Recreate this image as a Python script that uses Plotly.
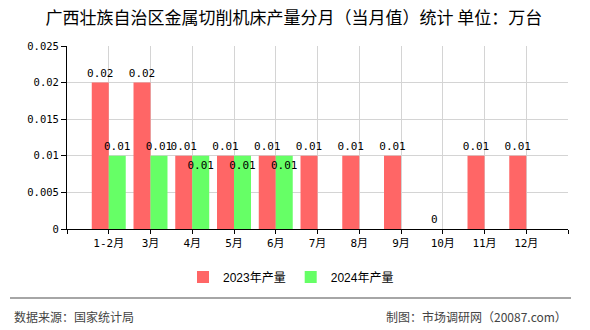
import plotly.graph_objects as go

categories = ["1-2月", "3月", "4月", "5月", "6月", "7月", "8月", "9月", "10月", "11月", "12月"]
prod_2023 = [0.02, 0.02, 0.01, 0.01, 0.01, 0.01, 0.01, 0.01, 0, 0.01, 0.01]
prod_2024 = [0.01, 0.01, 0.01, 0.01, 0.01, None, None, None, None, None, None]
label_pos_2024 = ["outside", "outside", "inside", "inside", "inside"] + ["outside"] * 6
y_ticks = [0, 0.005, 0.01, 0.015, 0.02, 0.025]

xs = list(range(len(categories)))
mono = "DejaVu Sans Mono, Noto Sans CJK SC"
cjk = "Noto Sans CJK SC"

def fmt(v):
    return "" if v is None else f"{v:g}"

fig = go.Figure()
fig.add_trace(go.Bar(
    x=xs, y=prod_2023, name="2023年产量",
    marker=dict(color="#FF6666", line=dict(width=0)),
    text=[fmt(v) for v in prod_2023], textposition="outside", textangle=0,
    textfont=dict(family=mono, size=11, color="#000"),
    constraintext="none", cliponaxis=False,
))
fig.add_trace(go.Bar(
    x=xs, y=prod_2024, name="2024年产量",
    marker=dict(color="#66FF66", line=dict(width=0)),
    text=[fmt(v) for v in prod_2024], textposition=label_pos_2024, textangle=0,
    insidetextanchor="end",
    textfont=dict(family=mono, size=11, color="#000"),
    constraintext="none", cliponaxis=False,
))

tickvals = [-1] + xs + [len(categories)]
ticktext = [""] + categories + [""]

fig.update_layout(
    width=590, height=330,
    margin=dict(l=67, r=22, t=46, b=101),
    paper_bgcolor="white", plot_bgcolor="white",
    barmode="group", bargap=0.186, bargroupgap=0,
    title=dict(text="广西壮族自治区金属切削机床产量分月（当月值）统计 单位：万台",
               x=0.498, xref="container", xanchor="center",
               y=1 - 18 / 330, yref="container", yanchor="middle",
               font=dict(family=cjk, size=17, color="#000")),
    legend=dict(orientation="h", xref="container", yref="container",
                x=291 / 590, xanchor="center", y=1 - 277 / 330, yanchor="middle",
                font=dict(family="Liberation Sans, Noto Sans CJK SC", size=12, color="#000"),
                itemwidth=30, traceorder="normal"),
    xaxis=dict(range=[-1, len(categories)], tickmode="array", tickvals=tickvals,
               ticktext=ticktext, showgrid=True, gridcolor="#d4d4d4", gridwidth=1,
               showline=True, linecolor="#000", linewidth=1, ticks="outside",
               ticklen=4, tickcolor="#000", zeroline=False,
               tickfont=dict(family=mono, size=11, color="#000")),
    yaxis=dict(range=[0, 0.025], tickmode="array", tickvals=y_ticks,
               ticktext=[f"{v:g}" for v in y_ticks],
               showgrid=True, gridcolor="#d4d4d4", gridwidth=1,
               showline=True, linecolor="#000", linewidth=1, ticks="outside",
               ticklen=5, tickcolor="#000", zeroline=False,
               tickfont=dict(family=mono, size=10.5, color="#000")),
    shapes=[dict(type="line", xref="paper", yref="paper",
                 x0=(10 - 67) / 501, x1=(571 - 67) / 501,
                 y0=(229 - 298) / 183, y1=(229 - 298) / 183,
                 line=dict(color="#888888", width=1.5))],
    annotations=[
        dict(text="数据来源：国家统计局", xref="paper", yref="paper",
             x=(12 - 67) / 501, y=(229 - 316) / 183, xanchor="left", yanchor="middle",
             showarrow=False, font=dict(family=cjk, size=12, color="#444")),
        dict(text="制图：市场调研网（20087.com）", xref="paper", yref="paper",
             x=(569 - 67) / 501, y=(229 - 316) / 183, xanchor="right", yanchor="middle",
             showarrow=False, font=dict(family=cjk, size=12, color="#444")),
    ],
)

fig.write_html("out.html")
